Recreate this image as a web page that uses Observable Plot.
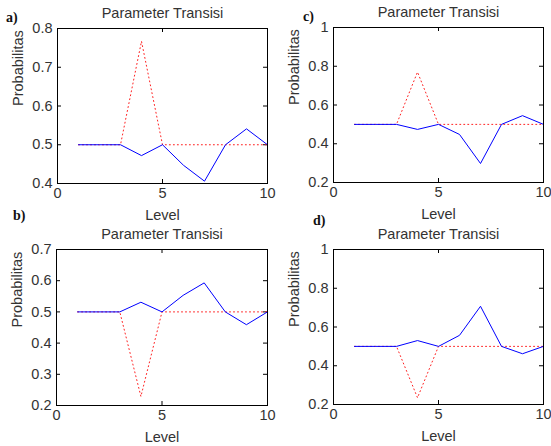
<!DOCTYPE html>
<html><head><meta charset="utf-8">
<script src="https://cdn.jsdelivr.net/npm/d3@7"></script>
<script src="https://cdn.jsdelivr.net/npm/@observablehq/plot@0.6"></script>
<style>
body{margin:0;background:#fff;}
#wrap{position:relative;width:551px;height:446px;background:#fff;overflow:hidden;}
.panel{position:absolute;}
.tag{position:absolute;font-family:"Liberation Serif",serif;font-weight:bold;font-size:14px;color:#111;line-height:1;}
</style></head><body><div id="wrap"></div>
<script>
// ---- data ----
const levels = [1, 2, 3, 4, 5, 6, 7, 8, 9, 10];
const xTicks = [0, 5, 10];
const title = "Parameter Transisi";
const xLabel = "Level";
const yLabel = "Probabilitas";
const tags = ["a)", "b)", "c)", "d)"];

const aBlue = [0.5, 0.5, 0.5, 0.472, 0.5, 0.447, 0.406, 0.5, 0.541, 0.5];
const aRed  = [0.5, 0.5, 0.5, 0.767, 0.5, 0.5, 0.5, 0.5, 0.5, 0.5];
const aTicks = [0.4, 0.5, 0.6, 0.7, 0.8];

const bBlue = [0.5, 0.5, 0.5, 0.531, 0.5, 0.553, 0.593, 0.5, 0.459, 0.5];
const bRed  = [0.5, 0.5, 0.5, 0.229, 0.5, 0.5, 0.5, 0.5, 0.5, 0.5];
const bTicks = [0.2, 0.3, 0.4, 0.5, 0.6, 0.7];

const cBlue = [0.5, 0.5, 0.5, 0.474, 0.5, 0.448, 0.298, 0.5, 0.545, 0.5];
const cRed  = [0.5, 0.5, 0.5, 0.77, 0.5, 0.5, 0.5, 0.5, 0.5, 0.5];
const cTicks = [0.2, 0.4, 0.6, 0.8, 1];

const dBlue = [0.5, 0.5, 0.5, 0.53, 0.5, 0.557, 0.707, 0.5, 0.462, 0.5];
const dRed  = [0.5, 0.5, 0.5, 0.235, 0.5, 0.5, 0.5, 0.5, 0.5, 0.5];
const dTicks = [0.2, 0.4, 0.6, 0.8, 1];

// ---- drawing ----
const wrap = document.getElementById("wrap");
const FONT = '"Liberation Sans", Arial, sans-serif';
const TXT = "#333";

function panel(blue, red, yTicks, box) {
  const {left, top, width, height, mL, mT, mR, mB} = box;
  const iw = width - mL - mR, ih = height - mT - mB;
  const rows = levels.map((x, i) => ({x, blue: blue[i], red: red[i]}));
  const tl = 4;
  const chart = Plot.plot({
    width, height,
    marginLeft: mL, marginTop: mT, marginRight: mR, marginBottom: mB,
    style: {fontFamily: FONT, fontSize: "14.5px", color: TXT, background: "transparent", overflow: "visible"},
    x: {domain: [xTicks[0], xTicks[xTicks.length - 1]]},
    y: {domain: [yTicks[0], yTicks[yTicks.length - 1]]},
    marks: [
      Plot.axisX(xTicks, {tickSize: 0, tickPadding: 4, label: null, fill: TXT, tickFormat: d => String(d)}),
      Plot.axisY(yTicks, {tickSize: 0, tickPadding: 5, label: null, fill: TXT, tickFormat: d => String(d)}),
      // inside tick marks on all four sides
      Plot.tickX(xTicks, {x: d => d, insetTop: ih - tl, stroke: "#000"}),
      Plot.tickX(xTicks, {x: d => d, insetBottom: ih - tl, stroke: "#000"}),
      Plot.tickY(yTicks, {y: d => d, insetRight: iw - tl, stroke: "#000"}),
      Plot.tickY(yTicks, {y: d => d, insetLeft: iw - tl, stroke: "#000"}),
      Plot.line(rows, {x: "x", y: "red", stroke: "#ff2020", strokeWidth: 1, strokeDasharray: "1,3"}),
      Plot.line(rows, {x: "x", y: "blue", stroke: "#0000ff", strokeWidth: 1}),
      Plot.frame({stroke: "#000", strokeWidth: 1}),
      Plot.text([title], {text: d => d, frameAnchor: "top", lineAnchor: "bottom", dy: -11, fontSize: 14.5, fill: TXT}),
      Plot.text([xLabel], {text: d => d, frameAnchor: "bottom", lineAnchor: "bottom", dy: 36, fontSize: 14.5, fill: TXT}),
      Plot.text([yLabel], {text: d => d, frameAnchor: "left", lineAnchor: "middle", rotate: -90, dx: -39, fontSize: 14.5, fill: TXT})
    ]
  });
  chart.classList.add("panel");
  chart.style.left = left + "px";
  chart.style.top = top + "px";
  wrap.appendChild(chart);
}

panel(aBlue, aRed, aTicks, {left: 0,   top: 0,   width: 275, height: 222, mL: 57, mT: 28, mR: 8, mB: 39});
panel(cBlue, cRed, cTicks, {left: 275, top: 0,   width: 276, height: 222, mL: 58, mT: 27, mR: 8, mB: 40});
panel(bBlue, bRed, bTicks, {left: 0,   top: 222, width: 275, height: 224, mL: 56, mT: 27, mR: 8, mB: 41});
panel(dBlue, dRed, dTicks, {left: 275, top: 222, width: 276, height: 224, mL: 58, mT: 27, mR: 8, mB: 42});

const tagPos = [[6, 11], [13, 209], [303, 10], [313, 214]];
tags.forEach((t, i) => {
  const el = document.createElement("div");
  el.className = "tag";
  el.textContent = t;
  el.style.left = tagPos[i][0] + "px";
  el.style.top = tagPos[i][1] + "px";
  wrap.appendChild(el);
});
</script></body></html>
